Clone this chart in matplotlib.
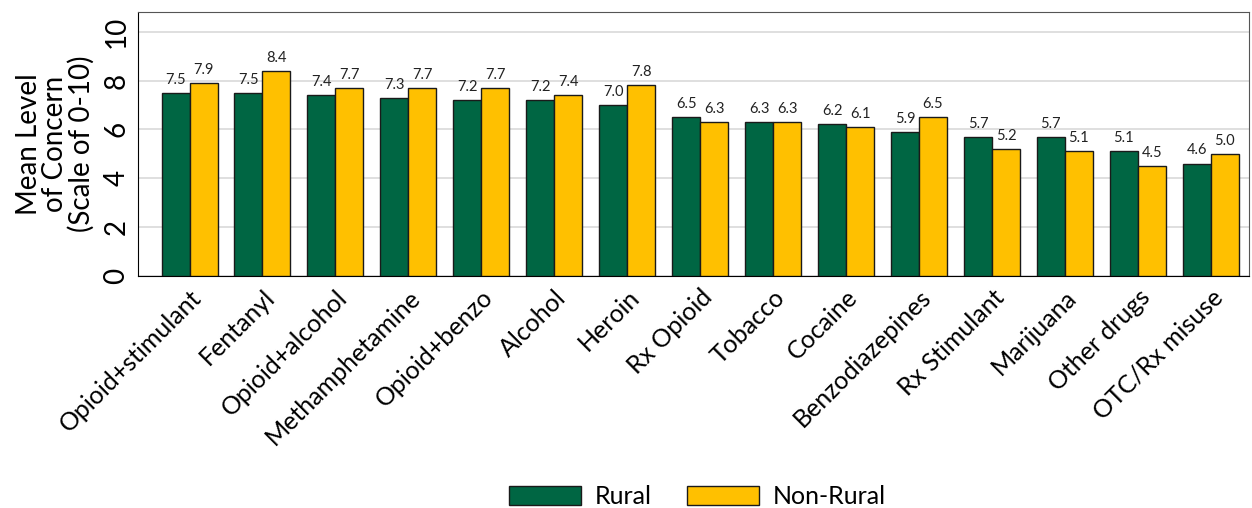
import numpy as np
import matplotlib.pyplot as plt

categories = ['Opioid+stimulant', 'Fentanyl', 'Opioid+alcohol', 'Methamphetamine', 'Opioid+benzo',
              'Alcohol', 'Heroin', 'Rx Opioid', 'Tobacco', 'Cocaine', 'Benzodiazepines',
              'Rx Stimulant', 'Marijuana', 'Other drugs', 'OTC/Rx misuse']
rural = [7.5, 7.5, 7.4, 7.3, 7.2, 7.2, 7.0, 6.5, 6.3, 6.2, 5.9, 5.7, 5.7, 5.1, 4.6]
nonrural = [7.9, 8.4, 7.7, 7.7, 7.7, 7.4, 7.8, 6.3, 6.3, 6.1, 6.5, 5.2, 5.1, 4.5, 5.0]
yticks = [0, 2, 4, 6, 8, 10]

plt.rcParams['font.family'] = ['Lato', 'DejaVu Sans']

fig = plt.figure(figsize=(12.52, 5.08), dpi=100)
ax = fig.add_axes([0.110, 0.457, 0.888, 0.519])

x = np.arange(len(categories))
w = 0.384
b1 = ax.bar(x - w/2, rural, w, color='#006643', edgecolor='#1a1a1a', linewidth=1, label='Rural', zorder=3)
b2 = ax.bar(x + w/2, nonrural, w, color='#FFC000', edgecolor='#1a1a1a', linewidth=1, label='Non-Rural', zorder=3)

for bars, vals in [(b1, rural), (b2, nonrural)]:
    for r, v in zip(bars, vals):
        ax.text(r.get_x() + r.get_width()/2, v + 0.25, '%.1f' % v, ha='center', va='bottom', fontsize=10.5, color='#222222')

ax.set_xlim(-0.71, len(categories) - 0.47)
ax.set_ylim(0, 10.8)
ax.set_yticks(yticks)
ax.set_yticklabels([str(t) for t in yticks], rotation=90, va='center', fontsize=20)
ax.set_xticks(x)
ax.set_xticklabels(categories, rotation=45, ha='right', rotation_mode='anchor', fontsize=18)
ax.tick_params(axis='x', length=0, pad=7)
ax.tick_params(axis='y', length=0, pad=6)
ax.yaxis.grid(True, color='#d9d9d9', linewidth=1.2, zorder=0)
ax.set_axisbelow(True)
for s in ['top', 'right']:
    ax.spines[s].set_color('#555555')
ax.spines['left'].set_color('black')
ax.spines['bottom'].set_color('black')
ax.set_ylabel('Mean Level\nof Concern\n(Scale of 0-10)', fontsize=20, linespacing=1.0, labelpad=6)

fig.legend(handles=[b1, b2], loc='center', bbox_to_anchor=(0.557, 0.022), ncol=2, frameon=False,
           fontsize=18, handlelength=2.9, handleheight=0.8, columnspacing=1.4, handletextpad=0.55)

fig.savefig('out.png', dpi=100)
